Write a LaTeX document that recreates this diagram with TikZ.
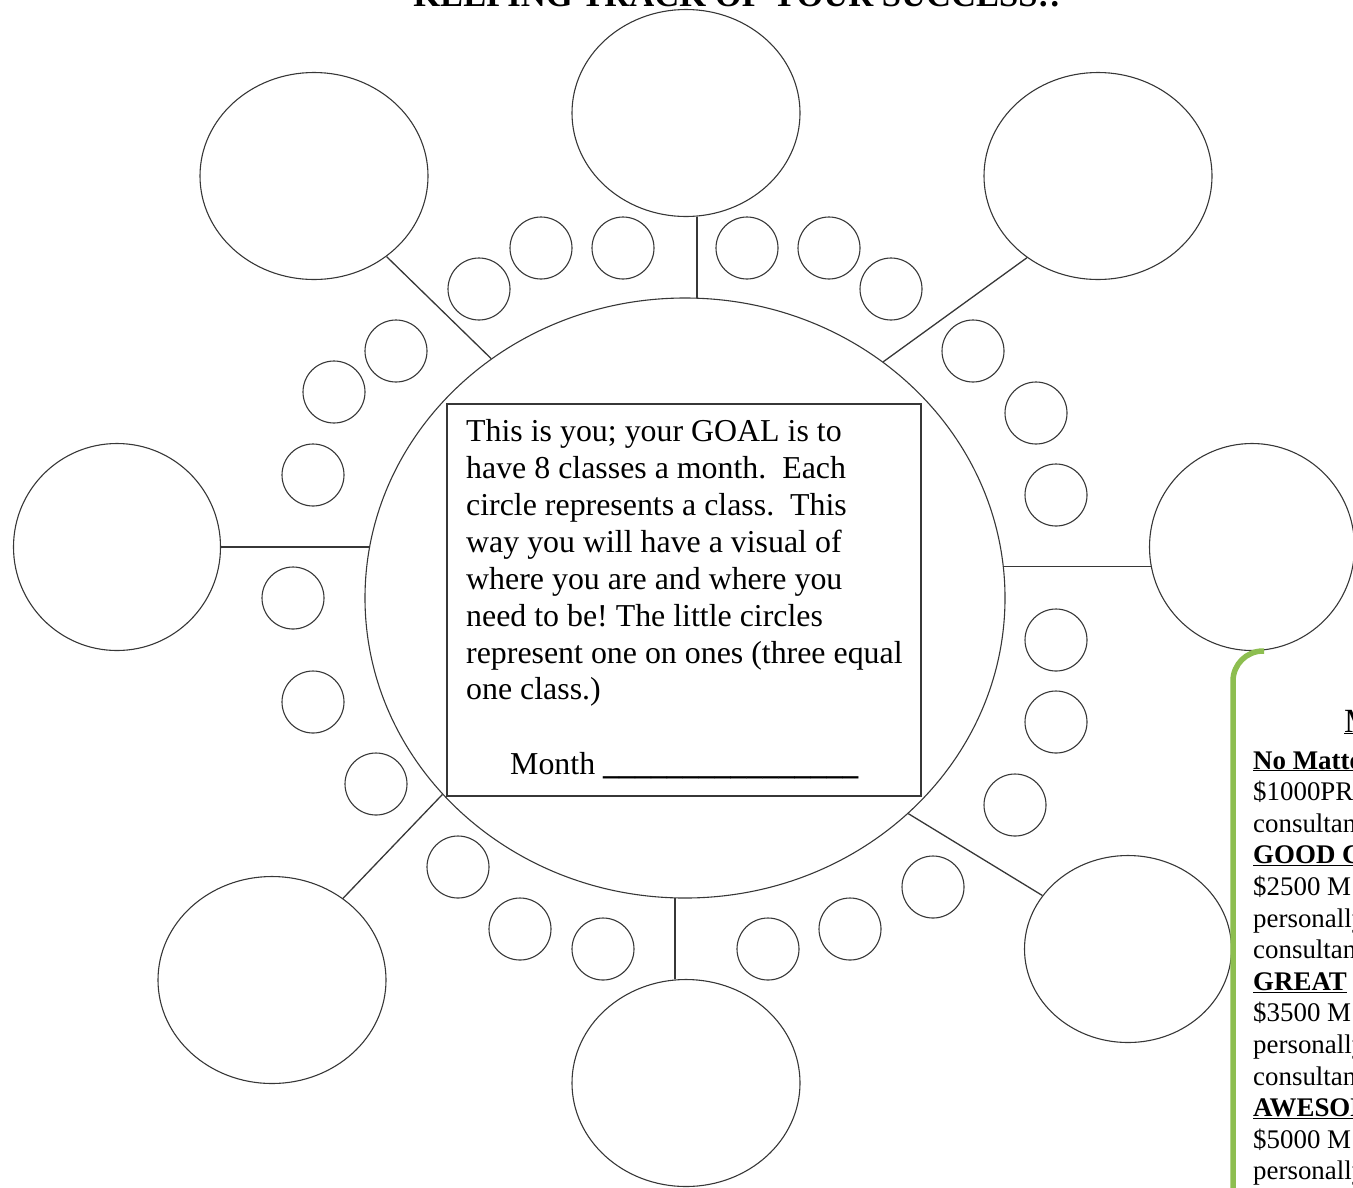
\documentclass[tikz,border=0pt]{standalone}
\usepackage{fontspec}
\setmainfont{Liberation Serif}
\usetikzlibrary{shapes.geometric}
\definecolor{linegray}{RGB}{55,55,55}
\definecolor{leafgreen}{RGB}{141,190,80}
\frenchspacing
\begin{document}
\begin{tikzpicture}[x=1bp,y=-1bp,
  oval/.style={draw=linegray, line width=1.1bp, ellipse, inner sep=0pt},
  bigoval/.style={oval, minimum width=228bp, minimum height=207bp},
  dot/.style={draw=linegray, line width=1.1bp, circle, inner sep=0pt, minimum size=62bp},
  link/.style={draw=linegray, line width=1.3bp},
  body/.style={font=\fontsize{32}{37}\selectfont, anchor=base west, inner sep=0pt},
  side/.style={font=\fontsize{27}{31.6}\selectfont, anchor=base west, inner sep=0pt}]
\useasboundingbox (0,0) rectangle (1353,1187);
\clip (0,0) rectangle (1353,1187);

% title (mostly cut off at the top)
\node[font=\bfseries\fontsize{34.7}{40}\selectfont, anchor=base, inner sep=0pt] (title) at (737,6) {KEEPING TRACK OF YOUR SUCCESS!!};

% central oval and box
\node[oval, minimum width=640bp, minimum height=600bp] (c) at (685,598) {};
\node[draw=linegray, line width=1.6bp, minimum width=474bp, minimum height=392bp, inner sep=0pt] (box) at (684,600) {};

% outer ovals
\node[bigoval] (tp) at (686,113) {};
\node[bigoval] (tl) at (314,176) {};
\node[bigoval] (tr) at (1098,176) {};
\node[oval, minimum width=207bp, minimum height=207bp] (lf) at (117,547) {};
\node[oval, minimum width=205bp, minimum height=207bp] (rt) at (1252,547) {};
\node[bigoval] (bl) at (272,980) {};
\node[bigoval] (bt) at (686,1083) {};
\node[oval, minimum width=207bp, minimum height=187bp] (br) at (1128,949) {};

% connectors
\draw[link] (tp.-84.5) -- (tp.-84.5 |- c.87.9);
\draw[link] (tl.-48.7) -- (c.129.6);
\draw[link] (tr.229.1) -- (c.50.4);
\draw[link] (lf.-0.3) -- (lf.-0.3 -| c.171.1);
\draw[link] (rt.191.6) -- (rt.191.6 -| c.5.4);
\draw[link] (bl.49.5) -- (c.219.8);
\draw[link] (bt.96.1) -- (bt.96.1 |- c.268.1);
\draw[link] (br.148.2) -- (c.-44.9);

% small circles
\foreach \x/\y [count=\i] in {479/289, 541/248, 623/248, 747/248, 829/248, 891/289,
  396/351, 334/392, 313/475, 293/598, 313/702, 376/784,
  458/867, 520/929, 603/949, 768/949, 850/929, 933/887,
  973/351, 1036/413, 1056/495, 1056/640, 1056/722, 1015/805}
  \node[dot] (s\i) at (\x,\y) {};

% box text
\node[body] (t1) at (466,441) {This is you; your GOAL is to};
\node[body] (t2) at (466,478) {have 8 classes a month.~ Each};
\node[body] (t3) at (466,515) {circle represents a class.~ This};
\node[body] (t4) at (466,552) {way you will have a visual of};
\node[body] (t5) at (466,589) {where you are and where you};
\node[body] (t6) at (466,626) {need to be! The little circles};
\node[body] (t7) at (466,663) {represent one on ones (three equal};
\node[body] (t8) at (466,699) {one class.)};
\node[body] (mo) at (510,774) {Month \textbf{\_\_\_\_\_\_\_\_\_\_\_\_\_\_\_\_}};

% green border of the side box
\draw[leafgreen, line width=5.5bp, rounded corners=30bp] (1264,651) -- (1233,651) -- (1233,1200);

% side text (cut off at the right edge, as in the reference)
\node[font=\fontsize{34}{40}\selectfont, anchor=base west, inner sep=0pt] (h0) at (1344,732) {\underline{M}};
\node[side] (r1) at (1253,769) {\textbf{\underline{No Matter}}};
\node[side] (r2) at (1253,800.6) {\$1000PRS};
\node[side] (r3) at (1253,832.2) {consultant};
\node[side] (r4) at (1253,863.8) {\textbf{\underline{GOOD C}}};
\node[side] (r5) at (1253,895.4) {\$2500 M};
\node[side] (r6) at (1253,927) {personally};
\node[side] (r7) at (1253,958.6) {consultant};
\node[side] (r8) at (1253,990.2) {\textbf{\underline{GREAT}}};
\node[side] (r9) at (1253,1021.8) {\$3500 M};
\node[side] (r10) at (1253,1053.4) {personally};
\node[side] (r11) at (1253,1085) {consultant};
\node[side] (r12) at (1253,1116.6) {\textbf{\underline{AWESOME}}};
\node[side] (r13) at (1253,1148.2) {\$5000 M};
\node[side] (r14) at (1253,1179.8) {personally};
\end{tikzpicture}
\end{document}
